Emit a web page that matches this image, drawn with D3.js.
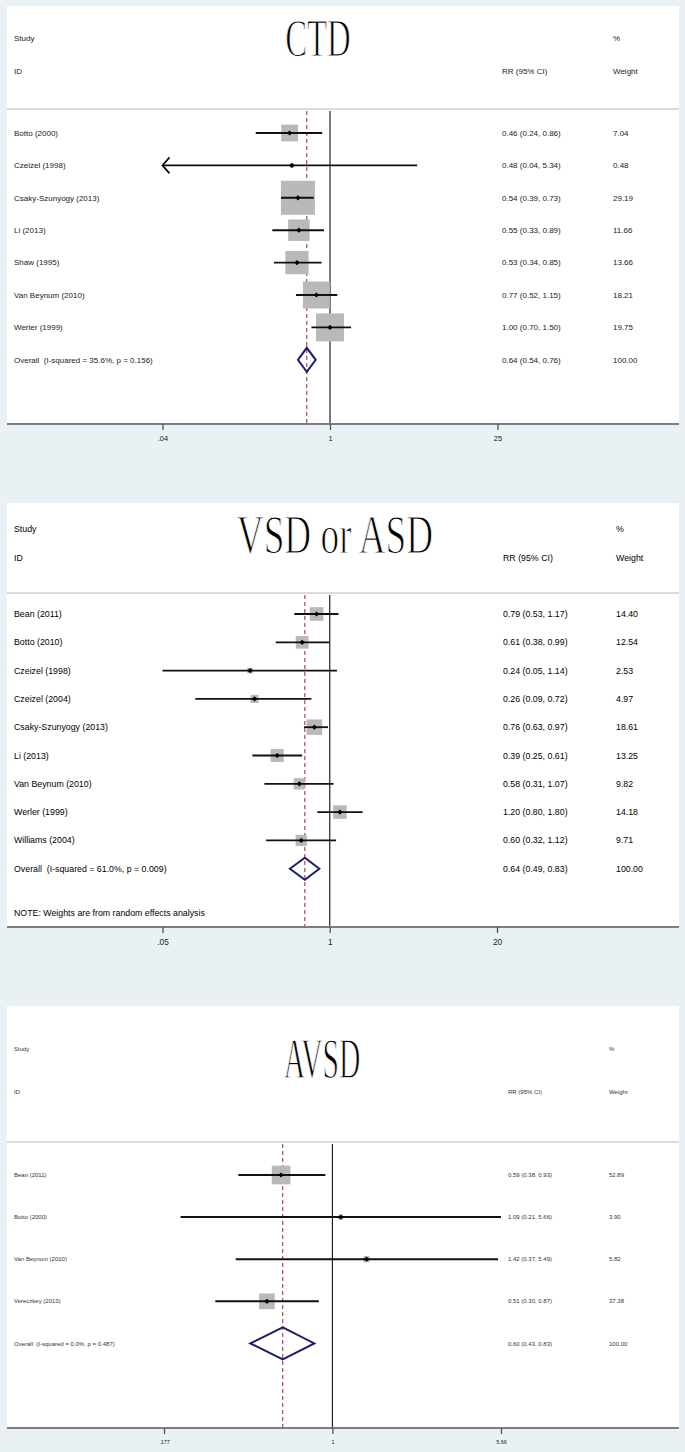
<!DOCTYPE html>
<html>
<head>
<meta charset="utf-8">
<script src="https://cdn.jsdelivr.net/npm/d3@7/dist/d3.min.js"></script>
<style>
  body { margin: 0; background: #e9f1f4; }
  svg { display: block; }
  .lbl { font-family: "Liberation Sans", Arial, sans-serif; fill: #1a1a1a; white-space: pre; }
</style>
</head>
<body>
<div id="chart"></div>
<script>
// ---- data: CTD
const ctdStudies = ['Botto (2000)', 'Czeizel (1998)', 'Csaky-Szunyogy (2013)', 'Li (2013)', 'Shaw (1995)', 'Van Beynum (2010)', 'Werler (1999)'];
const ctdRR = [0.46, 0.48, 0.54, 0.55, 0.53, 0.77, 1.00];
const ctdLo = [0.24, 0.04, 0.39, 0.33, 0.34, 0.52, 0.70];
const ctdHi = [0.86, 5.34, 0.73, 0.89, 0.85, 1.15, 1.50];
const ctdWeight = [7.04, 0.48, 29.19, 11.66, 13.66, 18.21, 19.75];
const ctdOffScale = ['Czeizel (1998)'];   // lower CI runs past the axis
const ctdOverall = [0.64, 0.54, 0.76];
const ctdOverallLabel = 'Overall  (I-squared = 35.6%, p = 0.156)';
const ctdTicks = [0.04, 1, 25];
const ctdTickLabels = ['.04', '1', '25'];

// ---- data: VSD or ASD
const vsdStudies = ['Bean (2011)', 'Botto (2010)', 'Czeizel (1998)', 'Czeizel (2004)', 'Csaky-Szunyogy (2013)', 'Li (2013)', 'Van Beynum (2010)', 'Werler (1999)', 'Williams (2004)'];
const vsdRR = [0.79, 0.61, 0.24, 0.26, 0.76, 0.39, 0.58, 1.20, 0.60];
const vsdLo = [0.53, 0.38, 0.05, 0.09, 0.63, 0.25, 0.31, 0.80, 0.32];
const vsdHi = [1.17, 0.99, 1.14, 0.72, 0.97, 0.61, 1.07, 1.80, 1.12];
const vsdWeight = [14.40, 12.54, 2.53, 4.97, 18.61, 13.25, 9.82, 14.18, 9.71];
const vsdOffScale = [];
const vsdOverall = [0.64, 0.49, 0.83];
const vsdOverallLabel = 'Overall  (I-squared = 61.0%, p = 0.009)';
const vsdNote = 'NOTE: Weights are from random effects analysis';
const vsdTicks = [0.05, 1, 20];
const vsdTickLabels = ['.05', '1', '20'];

// ---- data: AVSD
const avsdStudies = ['Bean (2011)', 'Botto (2000)', 'Van Beynum (2010)', 'Vereczkey (2013)'];
const avsdRR = [0.59, 1.09, 1.42, 0.51];
const avsdLo = [0.38, 0.21, 0.37, 0.30];
const avsdHi = [0.93, 5.66, 5.49, 0.87];
const avsdWeight = [52.89, 3.90, 5.82, 37.38];
const avsdOffScale = [];
const avsdOverall = [0.60, 0.43, 0.83];
const avsdOverallLabel = 'Overall  (I-squared = 0.0%, p = 0.487)';
const avsdTicks = [0.177, 1, 5.66];
const avsdTickLabels = ['.177', '1', '5.66'];

// ---- layout (pixels)
const W = 685, H = 1452;
const panelLeft = 7, panelRight = 679;

const svg = d3.select('#chart').append('svg')
  .attr('width', W)
  .attr('height', H);

function rows(studies, rr, lo, hi, weight, offScale) {
  return studies.map(function(s, i) {
    return { study: s, rr: rr[i], lo: lo[i], hi: hi[i], w: weight[i], off: offScale.indexOf(s) >= 0 };
  });
}

const panels = [
  {
    title: 'CTD', titleX: 318, titleBase: 56, titleSx: 0.82, titleSy: 1.3,
    top: 6, studyY: 38, idY: 71, sepY: 109, firstRow: 133, rowStep: 32.4, axisY: 424,
    rrX: 502, wX: 613, font: 8, textFill: '#1a1a1a', xRange: [162.5, 497.5],
    boxK: 6.3, diamondH: 12, ciW: 1.9,
    data: rows(ctdStudies, ctdRR, ctdLo, ctdHi, ctdWeight, ctdOffScale),
    overall: ctdOverall, overallLabel: ctdOverallLabel,
    ticks: ctdTicks, tickLabels: ctdTickLabels
  },
  {
    title: 'VSD or ASD', titleX: 335, titleBase: 553, titleSx: 0.93, titleSy: 1.36,
    top: 503, studyY: 529, idY: 558, sepY: 593, firstRow: 614, rowStep: 28.3, axisY: 927,
    rrX: 503, wX: 616, font: 8.8, textFill: '#000', xRange: [162.5, 497],
    boxK: 3.6, diamondH: 11, ciW: 1.8,
    data: rows(vsdStudies, vsdRR, vsdLo, vsdHi, vsdWeight, vsdOffScale),
    overall: vsdOverall, overallLabel: vsdOverallLabel, note: vsdNote, noteY: 913,
    ticks: vsdTicks, tickLabels: vsdTickLabels
  },
  {
    title: 'AVSD', titleX: 322, titleBase: 1078, titleSx: 0.74, titleSy: 1.4,
    top: 1006, studyY: 1049, idY: 1092, sepY: 1142, firstRow: 1175, rowStep: 42.1, axisY: 1428,
    rrX: 508, wX: 609, font: 6, textFill: '#333', xRange: [164, 501],
    boxK: 2.56, diamondH: 16, ciW: 2,
    data: rows(avsdStudies, avsdRR, avsdLo, avsdHi, avsdWeight, avsdOffScale),
    overall: avsdOverall, overallLabel: avsdOverallLabel,
    ticks: avsdTicks, tickLabels: avsdTickLabels
  }
];

const fmt = d3.format('.2f');

panels.forEach(function(p) {
  const g = svg.append('g');

  // scales
  const x = d3.scaleLog()
    .domain(d3.extent(p.ticks))
    .range(p.xRange);
  const y = d3.scaleLinear()
    .domain([0, p.data.length])
    .range([p.firstRow, p.firstRow + p.rowStep * p.data.length]);

  // white plot area
  g.append('rect')
    .attr('x', panelLeft)
    .attr('y', p.top)
    .attr('width', panelRight - panelLeft)
    .attr('height', p.axisY - p.top)
    .attr('fill', '#fff');

  // header
  const header = [
    { t: 'Study', x: 14, y: p.studyY },
    { t: 'ID', x: 14, y: p.idY },
    { t: 'RR (95% CI)', x: p.rrX, y: p.idY },
    { t: '%', x: p.wX, y: p.studyY },
    { t: 'Weight', x: p.wX, y: p.idY }
  ];
  g.selectAll('.hdr')
    .data(header)
    .enter()
    .append('text')
    .attr('class', 'lbl')
    .attr('x', function(d) { return d.x; })
    .attr('y', function(d) { return d.y; })
    .attr('dy', '0.35em')
    .style('font-size', p.font + 'px')
    .style('fill', p.textFill)
    .text(function(d) { return d.t; });

  // title (tall, narrow serif; white hairline keeps strokes thin)
  g.append('text')
    .attr('transform', `translate(${ p.titleX }, ${ p.titleBase }) scale(${ p.titleSx }, ${ p.titleSy })`)
    .attr('text-anchor', 'middle')
    .style('font-family', '"Liberation Serif", "Times New Roman", serif')
    .style('font-size', '40px')
    .style('fill', '#000')
    .style('stroke', '#fff')
    .style('stroke-width', 0.9)
    .text(p.title);

  // separator under header
  g.append('line')
    .attr('x1', panelLeft).attr('x2', panelRight)
    .attr('y1', p.sepY).attr('y2', p.sepY)
    .attr('stroke', '#cfcfcf')
    .attr('stroke-width', 1.5);

  // null line at 1
  g.append('line')
    .attr('x1', x(1)).attr('x2', x(1))
    .attr('y1', p.sepY + 2).attr('y2', p.axisY)
    .attr('stroke', '#222')
    .attr('stroke-width', 1.2);

  // pooled estimate dashed line
  g.append('line')
    .attr('x1', x(p.overall[0])).attr('x2', x(p.overall[0]))
    .attr('y1', p.sepY + 2).attr('y2', p.axisY)
    .attr('stroke', '#a4364c')
    .attr('stroke-width', 1.1)
    .attr('stroke-dasharray', '4,3');

  // study rows
  const row = g.selectAll('.row')
    .data(p.data)
    .enter()
    .append('g')
    .attr('class', 'row')
    .attr('transform', function(d, i) { return `translate(0, ${ y(i) })`; });

  row.append('rect')
    .attr('x', function(d) { return x(d.rr) - p.boxK * Math.sqrt(d.w) / 2; })
    .attr('y', function(d) { return -p.boxK * Math.sqrt(d.w) / 2; })
    .attr('width', function(d) { return p.boxK * Math.sqrt(d.w); })
    .attr('height', function(d) { return p.boxK * Math.sqrt(d.w); })
    .attr('fill', '#b9b9b9');

  row.append('line')
    .attr('x1', function(d) { return x(Math.max(d.lo, x.domain()[0])); })
    .attr('x2', function(d) { return x(Math.min(d.hi, x.domain()[1])); })
    .attr('y1', 0).attr('y2', 0)
    .attr('stroke', '#111')
    .attr('stroke-width', p.ciW);

  // arrow where the CI runs off the axis
  row.filter(function(d) { return d.off; })
    .append('path')
    .attr('d', function() {
      const x0 = x(x.domain()[0]);
      return `M${ x0 + 7 },-8L${ x0 },0L${ x0 + 7 },8`;
    })
    .attr('fill', 'none')
    .attr('stroke', '#111')
    .attr('stroke-width', 1.8);

  row.append('path')
    .attr('d', function(d) {
      const cx = x(d.rr);
      return `M${ cx - 2.6 },0L${ cx },-2.6L${ cx + 2.6 },0L${ cx },2.6Z`;
    })
    .attr('fill', '#000');

  row.append('text')
    .attr('class', 'lbl')
    .attr('x', 14)
    .attr('dy', '0.35em')
    .style('font-size', p.font + 'px')
    .style('fill', p.textFill)
    .text(function(d) { return d.study; });

  row.append('text')
    .attr('class', 'lbl')
    .attr('x', p.rrX)
    .attr('dy', '0.35em')
    .style('font-size', p.font + 'px')
    .style('fill', p.textFill)
    .text(function(d) { return `${ fmt(d.rr) } (${ fmt(d.lo) }, ${ fmt(d.hi) })`; });

  row.append('text')
    .attr('class', 'lbl')
    .attr('x', p.wX)
    .attr('dy', '0.35em')
    .style('font-size', p.font + 'px')
    .style('fill', p.textFill)
    .text(function(d) { return fmt(d.w); });

  // overall row
  const oy = y(p.data.length);
  const o = p.overall;
  g.append('path')
    .attr('d', `M${ x(o[1]) },${ oy }L${ x(o[0]) },${ oy - p.diamondH }L${ x(o[2]) },${ oy }L${ x(o[0]) },${ oy + p.diamondH }Z`)
    .attr('fill', 'none')
    .attr('stroke', '#1d1f6e')
    .attr('stroke-width', 2);

  g.append('text')
    .attr('class', 'lbl')
    .attr('x', 14).attr('y', oy).attr('dy', '0.35em')
    .style('font-size', p.font + 'px')
    .style('fill', p.textFill)
    .text(p.overallLabel);

  g.append('text')
    .attr('class', 'lbl')
    .attr('x', p.rrX).attr('y', oy).attr('dy', '0.35em')
    .style('font-size', p.font + 'px')
    .style('fill', p.textFill)
    .text(`${ fmt(o[0]) } (${ fmt(o[1]) }, ${ fmt(o[2]) })`);

  g.append('text')
    .attr('class', 'lbl')
    .attr('x', p.wX).attr('y', oy).attr('dy', '0.35em')
    .style('font-size', p.font + 'px')
    .style('fill', p.textFill)
    .text(fmt(100));

  if (p.note) {
    g.append('text')
      .attr('class', 'lbl')
      .attr('x', 14).attr('y', p.noteY).attr('dy', '0.35em')
      .style('font-size', p.font + 'px')
      .style('fill', p.textFill)
      .text(p.note);
  }

  // x axis
  g.append('line')
    .attr('x1', panelLeft).attr('x2', panelRight)
    .attr('y1', p.axisY).attr('y2', p.axisY)
    .attr('stroke', '#7d7d7d')
    .attr('stroke-width', 2);

  const axis = d3.axisBottom(x)
    .tickValues(p.ticks)
    .tickFormat(function(d, i) { return p.tickLabels[i]; })
    .tickSize(6)
    .tickPadding(6);

  const ax = g.append('g')
    .attr('transform', `translate(0, ${ p.axisY })`)
    .call(axis);
  ax.select('.domain').remove();
  ax.selectAll('.tick line').attr('stroke', '#555').attr('stroke-width', 1.3);
  ax.selectAll('.tick text')
    .style('font-family', '"Liberation Sans", Arial, sans-serif')
    .style('font-size', (p.font - 0.5) + 'px')
    .style('fill', '#222');
});
</script>
</body>
</html>
